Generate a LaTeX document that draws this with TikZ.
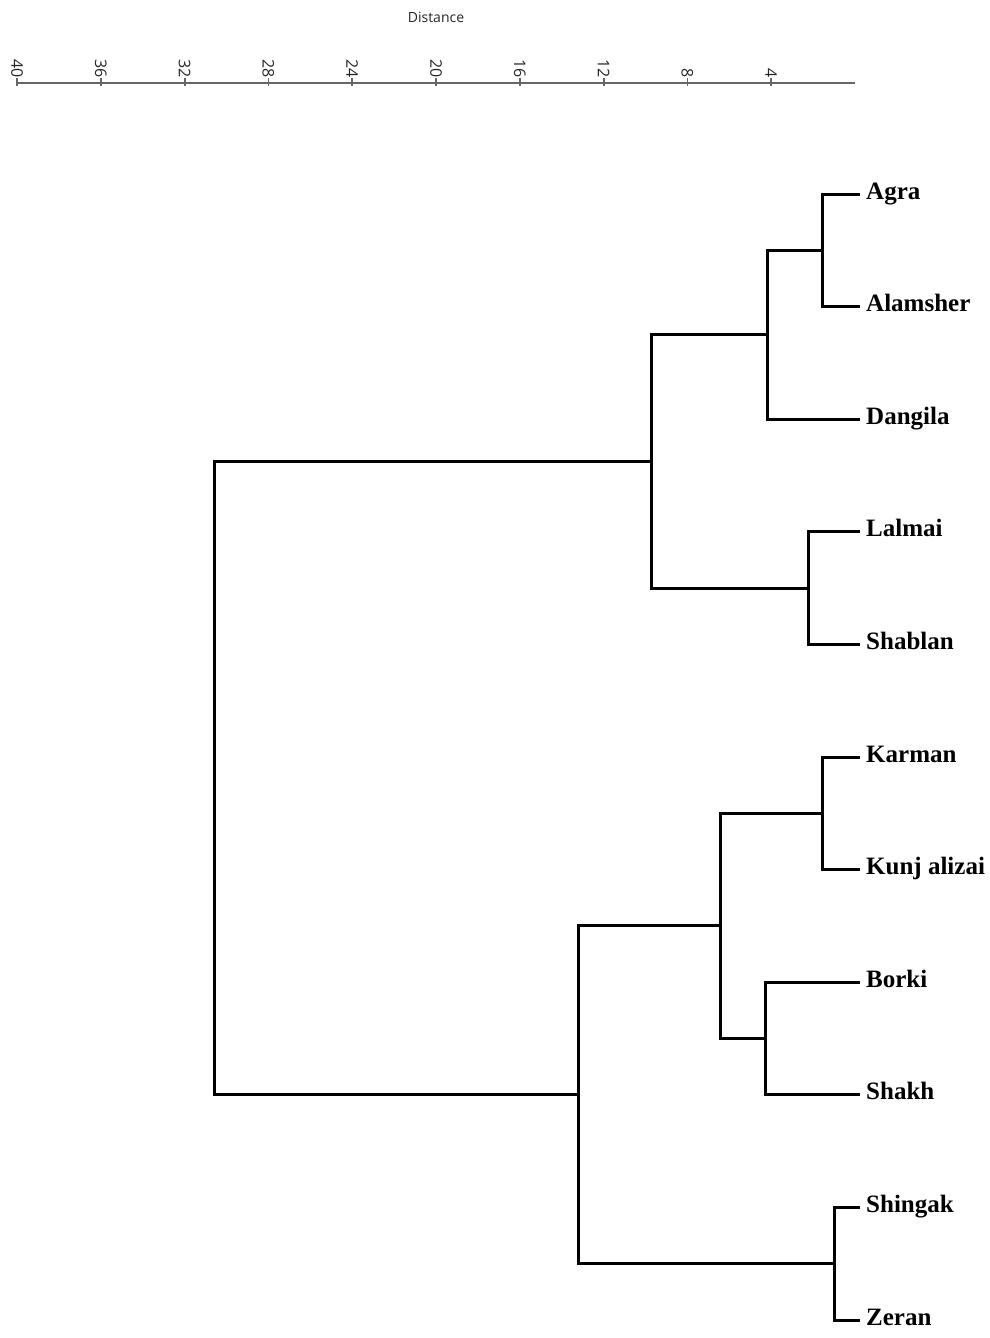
\documentclass[tikz,border=0pt]{standalone}
\usepackage{fontspec}
\setmainfont{Liberation Serif}
\newfontfamily\axisfont{Open Sans}
\usetikzlibrary{calc}
\tikzset{%
  leaf/.style   = {anchor=base west, inner sep=0pt,%
                   font=\bfseries\fontsize{25}{25}\selectfont},%
  branch/.style = {draw, line width=3pt, line cap=rect},%
  axisline/.style = {draw=black!60, line width=1.8pt},%
  ticklbl/.style  = {rotate=-90, anchor=east, inner sep=0pt,%
                     text=black!85, font=\axisfont\fontsize{16}{16}\selectfont}%
}
\begin{document}
\begin{tikzpicture}[x=1pt,y=-1pt]
	\useasboundingbox (0,0) rectangle (990,1338);%
	% axis
	\node[text=black!85,font=\axisfont\fontsize{14}{14}\selectfont] (dist) at (436,17) {Distance};%
	\coordinate (ax0) at (17,83);%
	\coordinate (ax1) at (855,83);%
	\draw[axisline] (ax0) -- (ax1);%
	\foreach \d in {4,8,...,40}{%
		\coordinate (t\d) at ({855-20.95*\d},83);%
		\draw[axisline] ($(t\d)+(0,-5)$) -- ($(t\d)+(0,3)$);%
		\node[ticklbl] (l\d) at ($(t\d)+(0,-5)$) {\d};%
	}%
	% leaves
	\foreach \name/\txt [count=\i from 0] in {agra/Agra,alamsher/Alamsher,dangila/Dangila,%
			lalmai/Lalmai,shablan/Shablan,karman/Karman,kunj/Kunj alizai,borki/Borki,%
			shakh/Shakh,shingak/Shingak,zeran/Zeran}{%
		\coordinate (\name) at (858,{194+112.6*\i});%
		\node[leaf] (\name-lbl) at ($(\name)+(8,5)$) {\txt};%
	}%
	% merge points
	\coordinate (n1) at (822,250.3);%
	\coordinate (n2) at (767,334.8);%
	\coordinate (n3) at (808,588.1);%
	\coordinate (n4) at (651,461.4);%
	\coordinate (n5) at (822,813.3);%
	\coordinate (n6) at (765,1038.5);%
	\coordinate (n7) at (720,925.9);%
	\coordinate (n8) at (834,1263.7);%
	\coordinate (n9) at (578,1094.8);%
	\coordinate (root) at (214,778.1);%
	% branches
	\draw[branch] (agra) -| (n1) |- (alamsher);%
	\draw[branch] (n1) -| (n2) |- (dangila);%
	\draw[branch] (lalmai) -| (n3) |- (shablan);%
	\draw[branch] (n2) -| (n4) |- (n3);%
	\draw[branch] (karman) -| (n5) |- (kunj);%
	\draw[branch] (borki) -| (n6) |- (shakh);%
	\draw[branch] (n5) -| (n7) |- (n6);%
	\draw[branch] (shingak) -| (n8) |- (zeran);%
	\draw[branch] (n7) -| (n9) |- (n8);%
	\draw[branch] (n4) -| (root) |- (n9);%
\end{tikzpicture}
\end{document}
